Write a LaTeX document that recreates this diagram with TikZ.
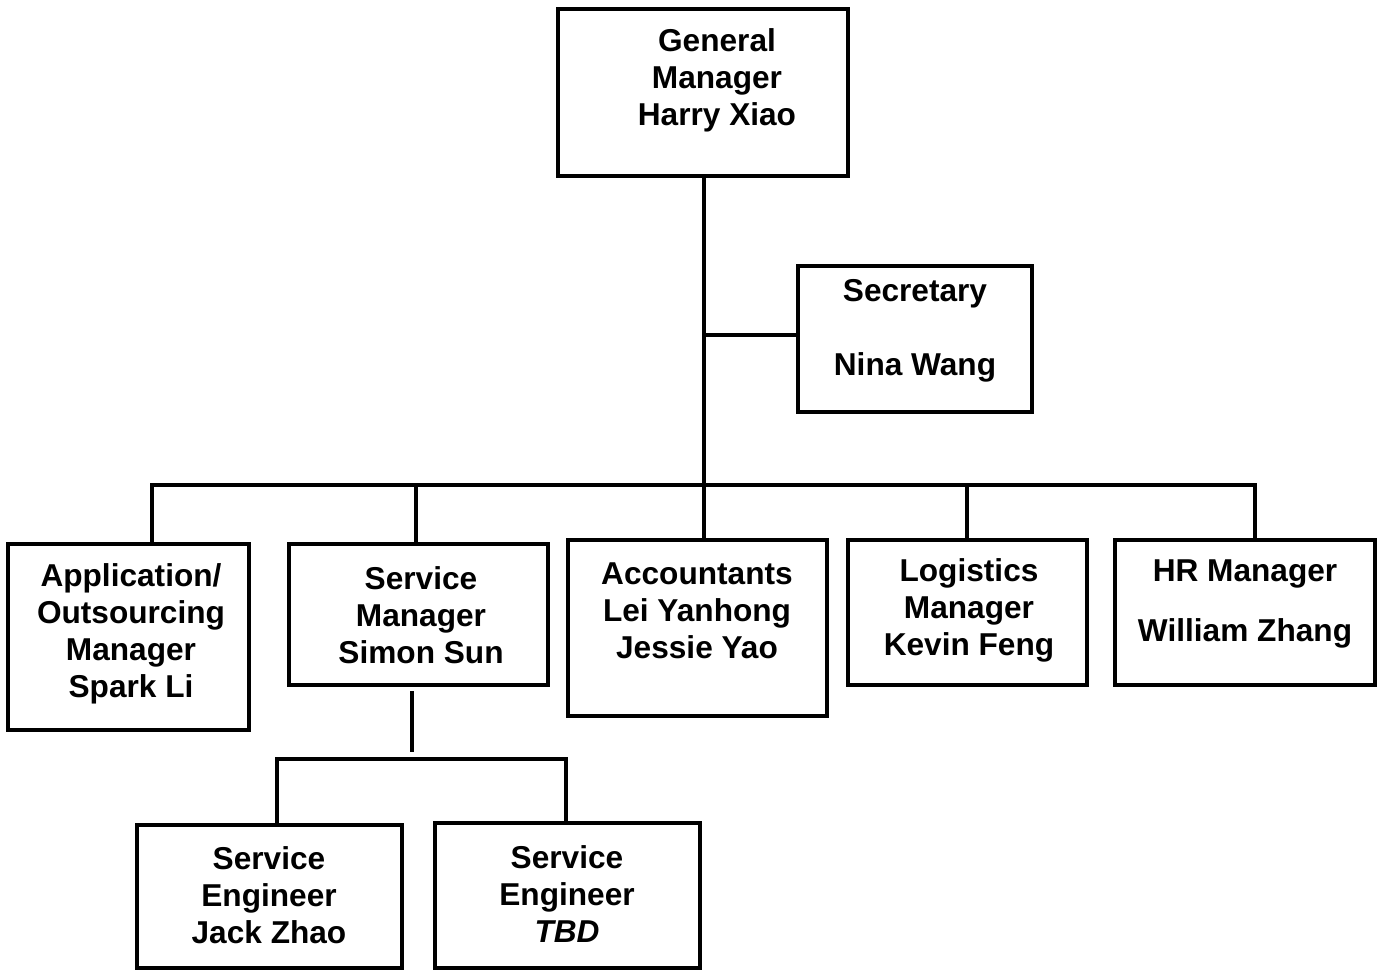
\documentclass[tikz,border=0pt]{standalone}
\usepackage{fontspec}
\setmainfont{Liberation Sans}
\usetikzlibrary{positioning}
\begin{document}
\begin{tikzpicture}[x=0.02cm,y=-0.02cm,
	box/.style={draw,line width=0.07cm,inner sep=0pt,outer sep=0pt},
	txt/.style={align=center,inner sep=0pt,font=\fontsize{18}{21}\selectfont\bfseries},
	link/.style={line width=0.07cm,line cap=rect}]
	\useasboundingbox (0,0) rectangle (1382,971);
	
	% Boxes
	\node[box,minimum width=5.8cm,minimum height=3.34cm] (gm) at (703,92.5) {};
	\node[box,minimum width=4.68cm,minimum height=2.92cm] (sec) at (915,339) {};
	\node[box,minimum width=4.82cm,minimum height=3.72cm] (app) at (128.5,637) {};
	\node[box,minimum width=5.18cm,minimum height=2.82cm] (sm) at (418.5,614.5) {};
	\node[box,minimum width=5.18cm,minimum height=3.52cm] (acc) at (697.5,628) {};
	\node[box,minimum width=4.78cm,minimum height=2.9cm] (log) at (967.5,612.5) {};
	\node[box,minimum width=5.2cm,minimum height=2.9cm] (hr) at (1245,612.5) {};
	\node[box,minimum width=5.3cm,minimum height=2.86cm] (seA) at (269.5,896.5) {};
	\node[box,minimum width=5.3cm,minimum height=2.9cm] (seB) at (567.5,895.5) {};
	
	% Texts
	\node[txt] (gmt) at (717,80) {General\\Manager\\Harry Xiao};
	\node[txt] (sect) at (915,331) {Secretary\\[21pt]Nina Wang};
	\node[txt] (appt) at (131,634) {Application/\\Outsourcing\\Manager\\Spark Li};
	\node[txt] (smt) at (421,615) {Service\\Manager\\Simon Sun};
	\node[txt] (acct) at (697,611) {Accountants\\Lei Yanhong\\Jessie Yao};
	\node[txt] (logt) at (969,610) {Logistics\\Manager\\Kevin Feng};
	\node[txt] (hrt) at (1245,604) {HR Manager\\[0.46cm]William Zhang};
	\node[txt] (seAt) at (269,895) {Service\\Engineer\\Jack Zhao};
	\node[txt] (seBt) at (567,894) {Service\\Engineer\\\textit{TBD}};
	
	% Bus points
	\coordinate (jA) at (152,485);
	\coordinate (jB) at (416,485);
	\coordinate (jC) at (704,485);
	\coordinate (jD) at (967,485);
	\coordinate (jE) at (1255,485);
	\coordinate (js) at (704,335);
	\coordinate (jS) at (412,759);
	\coordinate (jL) at (277,759);
	\coordinate (jR) at (566,759);
	
	% Connectors
	\draw[link] (gm.south -| jC) -- (jC);
	\draw[link] (js) -- (js -| sec.west);
	\draw[link] (jA) -- (jE);
	\foreach \j/\b in {jA/app,jB/sm,jC/acc,jD/log,jE/hr} {
		\draw[link] (\j) -- (\j |- \b.north);
	}
	\draw[link,shorten <=0.16cm,shorten >=0.18cm] (sm.south -| jS) -- (jS);
	\draw[link] (jL) -- (jR);
	\draw[link] (jL) -- (jL |- seA.north);
	\draw[link] (jR) -- (jR |- seB.north);
\end{tikzpicture}
\end{document}
